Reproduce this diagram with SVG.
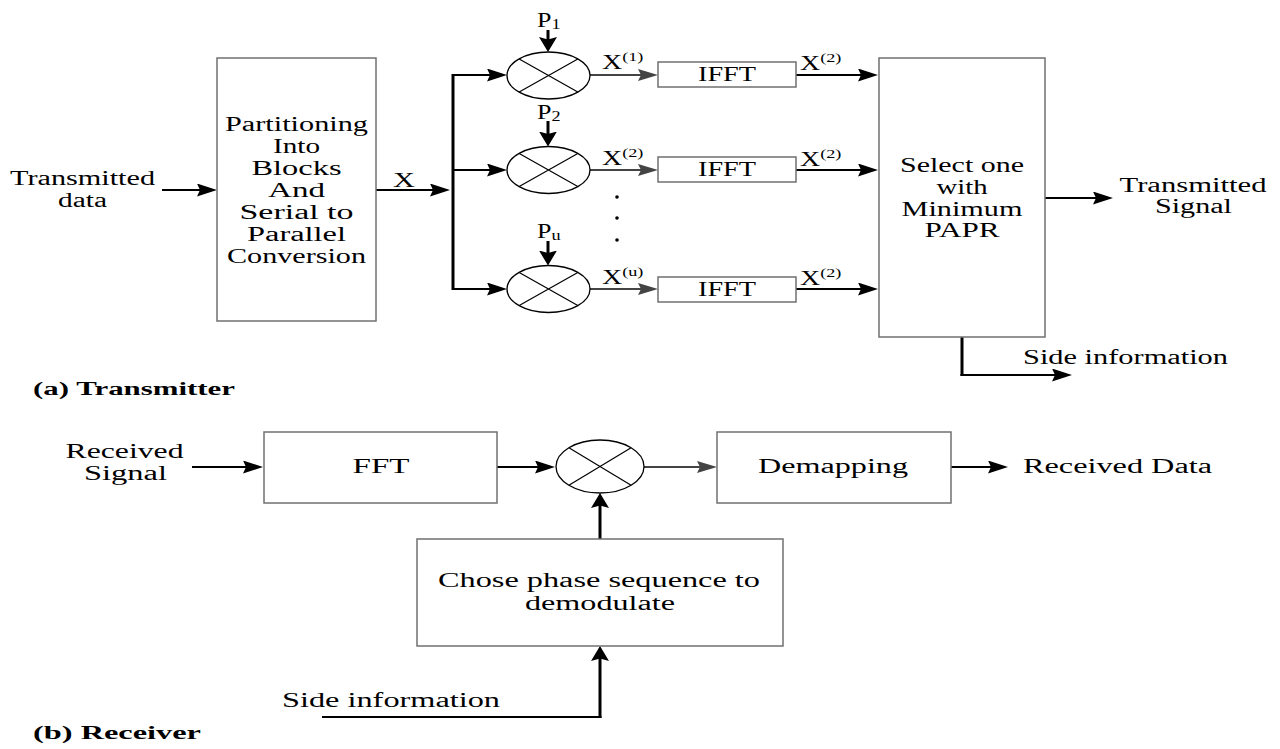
<svg xmlns="http://www.w3.org/2000/svg" width="1280" height="749" viewBox="0 0 1280 749">
<style>
.t{font-family:"Liberation Serif","Times New Roman",serif;font-size:20px;fill:#000}
.b{font-weight:bold;font-size:18px}
.box{fill:#fff;stroke:#707070;stroke-width:1.5}
.mul{fill:#fff;stroke:#000;stroke-width:1.3}
.xl{stroke:#000;stroke-width:1.2}
.w{fill:none;stroke:#000;stroke-width:2.2}
.v{fill:none;stroke:#000;stroke-width:3}
.g{fill:none;stroke:#444;stroke-width:2.2}
</style>
<defs>
<marker id="ah" markerUnits="userSpaceOnUse" markerWidth="22" markerHeight="16" refX="10" refY="6.5" orient="auto">
<path d="M0,0 L20,6.5 L0,13 L3,6.5 z" fill="#000"/>
</marker>
<marker id="ahg" markerUnits="userSpaceOnUse" markerWidth="22" markerHeight="16" refX="10" refY="6" orient="auto">
<path d="M0,0 L20,6 L0,12 L3,6 z" fill="#444"/>
</marker>
<marker id="av" markerUnits="userSpaceOnUse" markerWidth="18" markerHeight="20" refX="7" refY="9" orient="auto">
<path d="M0,0 L15,9 L0,18 L2.5,9 z" fill="#000"/>
</marker>
</defs>
<rect width="1280" height="749" fill="#fff"/>

<g id="connectors">
<path class="w" d="M162,190 H207" marker-end="url(#ah)"/>
<path class="w" d="M376,190 H440" marker-end="url(#ah)"/>
<path class="v" d="M453,74 V290"/>
<path class="w" d="M452,75 H497" marker-end="url(#ah)"/>
<path class="w" d="M452,170 H497" marker-end="url(#ah)"/>
<path class="w" d="M452,289 H497" marker-end="url(#ah)"/>
<path class="v" d="M548,30 V44" marker-end="url(#av)"/>
<path class="v" d="M548,121 V138.5" marker-end="url(#av)"/>
<path class="v" d="M548,241 V257.5" marker-end="url(#av)"/>
<path class="g" d="M590,75 H648" marker-end="url(#ahg)"/>
<path class="g" d="M590,170 H648" marker-end="url(#ahg)"/>
<path class="g" d="M590,289 H648" marker-end="url(#ahg)"/>
<path class="w" d="M796,75 H868" marker-end="url(#ah)"/>
<path class="w" d="M796,170 H868" marker-end="url(#ah)"/>
<path class="w" d="M796,289 H868" marker-end="url(#ah)"/>
<path class="w" d="M1045,198 H1103" marker-end="url(#ah)"/>
<path class="v" d="M962,337 V376"/>
<path class="w" d="M960.5,375 H1062" marker-end="url(#ah)"/>
<path class="w" d="M192,467 H253" marker-end="url(#ah)"/>
<path class="w" d="M497,467 H545" marker-end="url(#ah)"/>
<path class="g" d="M644,467 H707" marker-end="url(#ahg)"/>
<path class="w" d="M951,467 H998" marker-end="url(#ah)"/>
<path class="v" d="M600,539 V501" marker-end="url(#av)"/>
<path class="w" d="M322,717 H601.5"/>
<path class="v" d="M600,718 V654" marker-end="url(#av)"/>
<circle cx="617" cy="197" r="1.8" fill="#000"/>
<circle cx="617" cy="218" r="1.8" fill="#000"/>
<circle cx="617" cy="240" r="1.8" fill="#000"/>
</g>

<g id="in-label">
<text class="t" x="82.5" y="185" text-anchor="middle" textLength="145" lengthAdjust="spacingAndGlyphs">Transmitted</text>
<text class="t" x="82.5" y="207" text-anchor="middle" textLength="49" lengthAdjust="spacingAndGlyphs">data</text>
</g>

<g id="partition">
<rect class="box" x="217" y="58" width="159" height="263"/>
<text class="t" x="296.5" y="131" text-anchor="middle" textLength="143" lengthAdjust="spacingAndGlyphs">Partitioning</text>
<text class="t" x="296.5" y="153" text-anchor="middle" textLength="47" lengthAdjust="spacingAndGlyphs">Into</text>
<text class="t" x="296.5" y="175" text-anchor="middle" textLength="90" lengthAdjust="spacingAndGlyphs">Blocks</text>
<text class="t" x="296.5" y="197" text-anchor="middle" textLength="57" lengthAdjust="spacingAndGlyphs">And</text>
<text class="t" x="296.5" y="219" text-anchor="middle" textLength="114" lengthAdjust="spacingAndGlyphs">Serial to</text>
<text class="t" x="296.5" y="241" text-anchor="middle" textLength="99" lengthAdjust="spacingAndGlyphs">Parallel</text>
<text class="t" x="296.5" y="263" text-anchor="middle" textLength="139" lengthAdjust="spacingAndGlyphs">Conversion</text>
</g>

<g id="x-label">
<text class="t" x="404" y="186.5" text-anchor="middle" textLength="22" lengthAdjust="spacingAndGlyphs">X</text>
</g>

<g id="mul1">
<ellipse class="mul" cx="548.5" cy="75.5" rx="41.5" ry="23.5"/>
<path class="xl" d="M519.2,58.9 L577.8,92.1 M519.2,92.1 L577.8,58.9"/>
<text class="t" font-size="21" transform="translate(537,27) scale(1.3,1)">P<tspan font-size="14" dy="2">1</tspan></text>
</g>
<g id="mul2">
<ellipse class="mul" cx="548.5" cy="170" rx="41.5" ry="23.5"/>
<path class="xl" d="M519.2,153.4 L577.8,186.6 M519.2,186.6 L577.8,153.4"/>
<text class="t" font-size="21" transform="translate(537,119) scale(1.3,1)">P<tspan font-size="14" dy="2">2</tspan></text>
</g>
<g id="mulu">
<ellipse class="mul" cx="548.5" cy="289" rx="41.5" ry="23.5"/>
<path class="xl" d="M519.2,272.4 L577.8,305.6 M519.2,305.6 L577.8,272.4"/>
<text class="t" font-size="21" transform="translate(537,238) scale(1.3,1)">P<tspan font-size="14" dy="2">u</tspan></text>
</g>

<g id="xlabels">
<text class="t" transform="translate(602,69) scale(1.4,1)">X<tspan font-size="13" dy="-8">(1)</tspan></text>
<text class="t" transform="translate(602,165) scale(1.4,1)">X<tspan font-size="13" dy="-8">(2)</tspan></text>
<text class="t" transform="translate(602,284) scale(1.4,1)">X<tspan font-size="13" dy="-8">(u)</tspan></text>
<text class="t" transform="translate(800,70) scale(1.4,1)">X<tspan font-size="13" dy="-8">(2)</tspan></text>
<text class="t" transform="translate(800,166) scale(1.4,1)">X<tspan font-size="13" dy="-8">(2)</tspan></text>
<text class="t" transform="translate(800,285) scale(1.4,1)">X<tspan font-size="13" dy="-8">(2)</tspan></text>
</g>

<g id="ifft1">
<rect class="box" x="658" y="62" width="138" height="25"/>
<text class="t" x="727" y="81" text-anchor="middle" textLength="58" lengthAdjust="spacingAndGlyphs">IFFT</text>
</g>
<g id="ifft2">
<rect class="box" x="658" y="157" width="138" height="25"/>
<text class="t" x="727" y="176" text-anchor="middle" textLength="58" lengthAdjust="spacingAndGlyphs">IFFT</text>
</g>
<g id="ifftu">
<rect class="box" x="658" y="277" width="138" height="25"/>
<text class="t" x="727" y="296" text-anchor="middle" textLength="58" lengthAdjust="spacingAndGlyphs">IFFT</text>
</g>

<g id="select">
<rect class="box" x="879" y="58" width="166" height="279"/>
<text class="t" x="962" y="172" text-anchor="middle" textLength="124" lengthAdjust="spacingAndGlyphs">Select one</text>
<text class="t" x="962" y="193.5" text-anchor="middle" textLength="51" lengthAdjust="spacingAndGlyphs">with</text>
<text class="t" x="962" y="215.5" text-anchor="middle" textLength="121" lengthAdjust="spacingAndGlyphs">Minimum</text>
<text class="t" x="962" y="237" text-anchor="middle" textLength="75" lengthAdjust="spacingAndGlyphs">PAPR</text>
</g>

<g id="out-label">
<text class="t" x="1193" y="192" text-anchor="middle" textLength="147" lengthAdjust="spacingAndGlyphs">Transmitted</text>
<text class="t" x="1193.5" y="213" text-anchor="middle" textLength="77" lengthAdjust="spacingAndGlyphs">Signal</text>
</g>
<g id="side-tx">
<text class="t" x="1125.5" y="364" text-anchor="middle" textLength="205" lengthAdjust="spacingAndGlyphs">Side information</text>
</g>
<g id="caption-a">
<text class="t b" x="33" y="395" textLength="202" lengthAdjust="spacingAndGlyphs">(a) Transmitter</text>
</g>

<g id="rx-in">
<text class="t" x="124.5" y="458" text-anchor="middle" textLength="118" lengthAdjust="spacingAndGlyphs">Received</text>
<text class="t" x="125.5" y="480" text-anchor="middle" textLength="83" lengthAdjust="spacingAndGlyphs">Signal</text>
</g>
<g id="fft">
<rect class="box" x="264" y="432" width="233" height="71"/>
<text class="t" x="381" y="473" text-anchor="middle" textLength="57" lengthAdjust="spacingAndGlyphs">FFT</text>
</g>
<g id="mul-rx">
<ellipse class="mul" cx="600" cy="466.5" rx="44" ry="26.5"/>
<path class="xl" d="M568.9,447.8 L631.1,485.2 M568.9,485.2 L631.1,447.8"/>
</g>
<g id="demap">
<rect class="box" x="717" y="432" width="234" height="71"/>
<text class="t" x="833" y="473" text-anchor="middle" textLength="150" lengthAdjust="spacingAndGlyphs">Demapping</text>
</g>
<g id="rx-out">
<text class="t" x="1023" y="473" textLength="189" lengthAdjust="spacingAndGlyphs">Received Data</text>
</g>
<g id="chose">
<rect class="box" x="417" y="539" width="366" height="107"/>
<text class="t" x="599" y="587" font-size="21" text-anchor="middle" textLength="322" lengthAdjust="spacingAndGlyphs">Chose phase sequence to</text>
<text class="t" x="600" y="610" font-size="21" text-anchor="middle" textLength="150" lengthAdjust="spacingAndGlyphs">demodulate</text>
</g>
<g id="side-rx">
<text class="t" x="391" y="707" text-anchor="middle" textLength="218" lengthAdjust="spacingAndGlyphs">Side information</text>
</g>
<g id="caption-b">
<text class="t b" x="33" y="739" textLength="168" lengthAdjust="spacingAndGlyphs">(b) Receiver</text>
</g>
</svg>
